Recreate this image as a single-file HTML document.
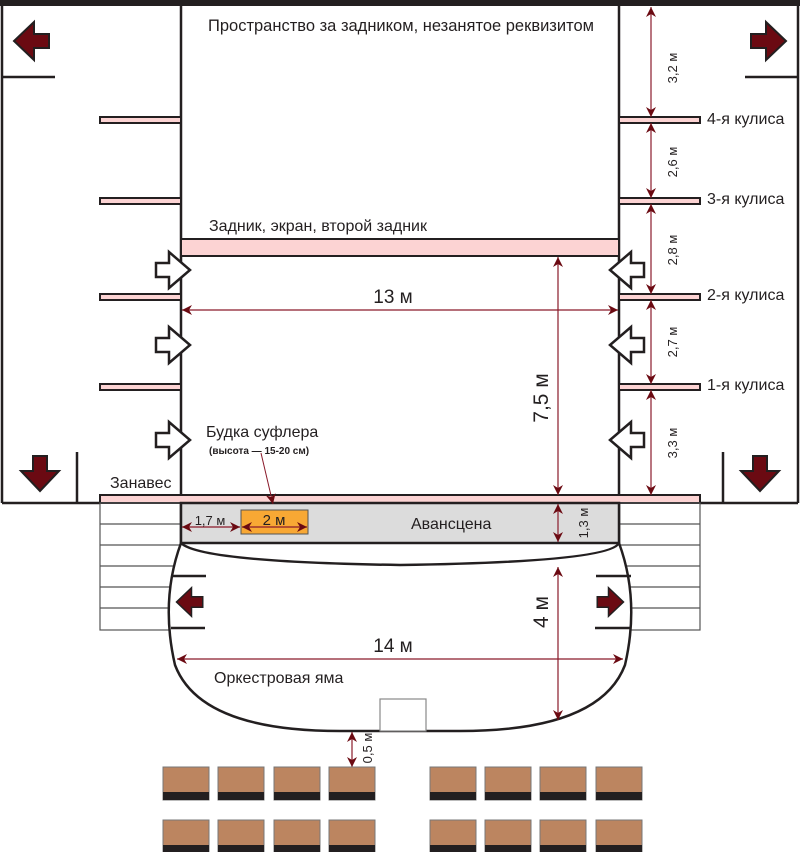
<!DOCTYPE html>
<html><head><meta charset="utf-8"><style>
html,body{margin:0;padding:0;background:#fff}
svg{display:block}
text{font-family:"Liberation Sans","DejaVu Sans",sans-serif;fill:#231f20}
</style></head><body>
<svg width="800" height="852" viewBox="0 0 800 852" xmlns="http://www.w3.org/2000/svg">
<defs>
<marker id="ah" viewBox="0 0 10 10" refX="10" refY="5" markerWidth="10" markerHeight="10" markerUnits="userSpaceOnUse" orient="auto-start-reverse">
<path d="M0,0 L10,5 L0,10 L3,5 z" fill="#6b0a12"/></marker>
<g id="harrow"><path d="M-20,-7 L-7,-7 L-7,-18 L14,0 L-7,18 L-7,7 L-20,7 z" fill="#fff" stroke="#231f20" stroke-width="2.5"/></g>
<g id="darrow"><path d="M-17,-7 L-2,-7 L-2,-19 L18,0 L-2,19 L-2,7 L-17,7 z" fill="#6b0a12" stroke="#231f20" stroke-width="2"/></g>
<g id="seat"><rect x="0" y="0" width="46" height="33" fill="#bc8560" stroke="#777" stroke-width="1"/><rect x="0" y="25" width="46" height="8" fill="#231f20"/></g>
</defs>
<rect x="0" y="0" width="800" height="6" fill="#231f20"/>
<g stroke="#231f20" stroke-width="2.5" fill="none">
<line x1="2" y1="6" x2="2" y2="503"/>
<line x1="798" y1="6" x2="798" y2="503"/>
<line x1="181" y1="6" x2="181" y2="543"/>
<line x1="619" y1="6" x2="619" y2="543"/>
<line x1="2" y1="503" x2="100" y2="503"/>
<line x1="700" y1="503" x2="798" y2="503"/>
<line x1="2" y1="77" x2="55" y2="77"/>
<line x1="745" y1="77" x2="798" y2="77"/>
<line x1="77" y1="452" x2="77" y2="503"/>
<line x1="723" y1="452" x2="723" y2="503"/>
</g>
<g fill="#fcd3d3" stroke="#231f20" stroke-width="2">
<rect x="100" y="117" width="81" height="6"/><rect x="100" y="198" width="81" height="6"/>
<rect x="100" y="294" width="81" height="6"/><rect x="100" y="384" width="81" height="6"/>
<rect x="619" y="117" width="81" height="6"/><rect x="619" y="198" width="81" height="6"/>
<rect x="619" y="294" width="81" height="6"/><rect x="619" y="384" width="81" height="6"/>
<rect x="181" y="239" width="438" height="17"/>
<rect x="100" y="495" width="600" height="8"/>
</g>
<g stroke="#555" stroke-width="1.2" fill="none">
<rect x="100" y="503" width="81" height="127"/>
<rect x="619" y="503" width="81" height="127"/>
<line x1="100" y1="524" x2="181" y2="524"/><line x1="100" y1="545" x2="181" y2="545"/><line x1="100" y1="566" x2="181" y2="566"/><line x1="100" y1="587" x2="181" y2="587"/><line x1="100" y1="608" x2="181" y2="608"/>
<line x1="619" y1="524" x2="700" y2="524"/><line x1="619" y1="545" x2="700" y2="545"/><line x1="619" y1="566" x2="700" y2="566"/><line x1="619" y1="587" x2="700" y2="587"/><line x1="619" y1="608" x2="700" y2="608"/>
</g>
<path d="M181,543 Q160,600 175,665 Q200,731 340,731 L460,731 Q600,731 625,665 Q640,600 619,543 Q610,562 400,565 Q200,562 181,543 z" fill="#fff" stroke="#231f20" stroke-width="2.5"/>
<rect x="181" y="503" width="438" height="40" fill="#dcdcdc" stroke="#231f20" stroke-width="2.5"/>
<rect x="241" y="510" width="67" height="24" fill="#f8a834" stroke="#555" stroke-width="1"/>
<g stroke="#231f20" stroke-width="2.5">
<line x1="171" y1="576" x2="206" y2="576"/><line x1="171" y1="628" x2="205" y2="628"/>
<line x1="596" y1="576" x2="631" y2="576"/><line x1="595" y1="628" x2="631" y2="628"/>
</g>
<rect x="380" y="699" width="46" height="32" fill="#fff" stroke="#888" stroke-width="1.2"/>
<use href="#harrow" x="176" y="270"/><use href="#harrow" x="176" y="345"/><use href="#harrow" x="176" y="440"/>
<use href="#harrow" transform="translate(624,270) scale(-1,1)"/><use href="#harrow" transform="translate(624,345) scale(-1,1)"/><use href="#harrow" transform="translate(624,440) scale(-1,1)"/>
<use href="#darrow" transform="translate(32,41) scale(-1,1)"/>
<use href="#darrow" x="768" y="41"/>
<use href="#darrow" transform="translate(40,473) rotate(90)"/>
<use href="#darrow" transform="translate(760,473) rotate(90)"/>
<use href="#darrow" transform="translate(190,602) scale(-0.75,0.75)"/>
<use href="#darrow" transform="translate(610,602) scale(0.75,0.75)"/>
<g stroke="#8a1a2a" stroke-width="1.2" marker-start="url(#ah)" marker-end="url(#ah)">
<line x1="651" y1="7" x2="651" y2="117"/>
<line x1="651" y1="123" x2="651" y2="198"/>
<line x1="651" y1="204" x2="651" y2="294"/>
<line x1="651" y1="300" x2="651" y2="384"/>
<line x1="651" y1="390" x2="651" y2="495"/>
<line x1="182" y1="310" x2="618" y2="310"/>
<line x1="558" y1="257" x2="558" y2="495"/>
<line x1="558" y1="504" x2="558" y2="542"/>
<line x1="182" y1="527" x2="240" y2="527"/>
<line x1="242" y1="527" x2="307" y2="527"/>
<line x1="177" y1="659" x2="623" y2="659"/>
<line x1="558" y1="567" x2="558" y2="720"/>
<line x1="352" y1="732" x2="352" y2="767"/>
</g>
<line x1="261" y1="453" x2="273" y2="504" stroke="#8a1a2a" stroke-width="1" marker-end="url(#ah)"/>
<use href="#seat" x="163" y="767"/><use href="#seat" x="218" y="767"/><use href="#seat" x="274" y="767"/><use href="#seat" x="329" y="767"/>
<use href="#seat" x="430" y="767"/><use href="#seat" x="485" y="767"/><use href="#seat" x="540" y="767"/><use href="#seat" x="596" y="767"/>
<use href="#seat" x="163" y="820"/><use href="#seat" x="218" y="820"/><use href="#seat" x="274" y="820"/><use href="#seat" x="329" y="820"/>
<use href="#seat" x="430" y="820"/><use href="#seat" x="485" y="820"/><use href="#seat" x="540" y="820"/><use href="#seat" x="596" y="820"/>
<text x="401" y="31" font-size="16.5" text-anchor="middle">Пространство за задником, незанятое реквизитом</text>
<text x="209" y="231" font-size="16">Задник, экран, второй задник</text>
<g font-size="16"><text x="707" y="124">4-я кулиса</text><text x="707" y="204">3-я кулиса</text><text x="707" y="300">2-я кулиса</text><text x="707" y="390">1-я кулиса</text></g>
<g font-size="13">
<text transform="translate(677,68) rotate(-90)" text-anchor="middle">3,2 м</text>
<text transform="translate(677,162) rotate(-90)" text-anchor="middle">2,6 м</text>
<text transform="translate(677,250) rotate(-90)" text-anchor="middle">2,8 м</text>
<text transform="translate(677,342) rotate(-90)" text-anchor="middle">2,7 м</text>
<text transform="translate(677,443) rotate(-90)" text-anchor="middle">3,3 м</text>
<text transform="translate(588,523) rotate(-90)" text-anchor="middle">1,3 м</text>
<text transform="translate(372,748) rotate(-90)" text-anchor="middle">0,5 м</text>
<text x="210" y="525" text-anchor="middle">1,7 м</text>
</g>
<text x="274" y="525" font-size="15" text-anchor="middle">2 м</text>
<text x="393" y="303" font-size="19" text-anchor="middle">13 м</text>
<text x="393" y="652" font-size="19" text-anchor="middle">14 м</text>
<text transform="translate(548,398) rotate(-90)" font-size="21" text-anchor="middle">7,5 м</text>
<text transform="translate(548,612) rotate(-90)" font-size="21" text-anchor="middle">4 м</text>
<text x="206" y="437" font-size="16">Будка суфлера</text>
<text x="209" y="454" font-size="10" font-weight="bold">(высота — 15-20 см)</text>
<text x="110" y="488" font-size="16">Занавес</text>
<text x="411" y="529" font-size="16">Авансцена</text>
<text x="214" y="683" font-size="16">Оркестровая яма</text>
</svg>
</body></html>
